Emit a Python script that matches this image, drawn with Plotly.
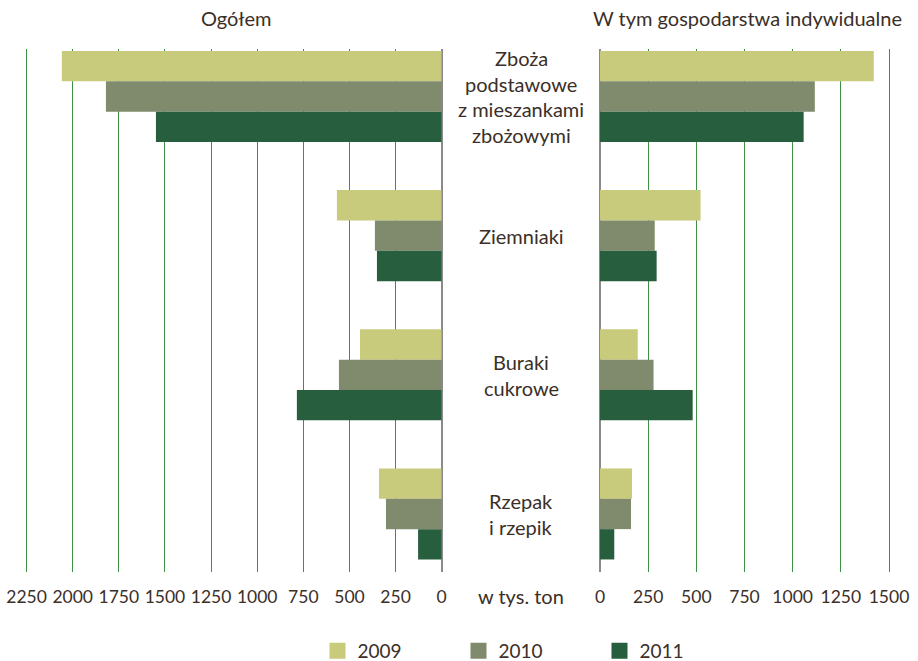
import plotly.graph_objects as go

categories = ["Zboża<br>podstawowe<br>z mieszankami<br>zbożowymi", "Ziemniaki", "Buraki<br>cukrowe", "Rzepak<br>i rzepik"]
cat_keys = ["Zboża", "Ziemniaki", "Buraki", "Rzepak"]
years = ["2009", "2010", "2011"]
colors = ["#c8ca7c", "#7f8b6c", "#275e3e"]

total = {
    "2009": [2059, 568, 443, 340],
    "2010": [1820, 362, 557, 302],
    "2011": [1549, 351, 785, 128],
}
individual = {
    "2009": [1421, 522, 196, 166],
    "2010": [1115, 284, 278, 161],
    "2011": [1057, 294, 481, 74],
}
left_ticks = [0, 250, 500, 750, 1000, 1250, 1500, 1750, 2000, 2250]
right_ticks = [0, 250, 500, 750, 1000, 1250, 1500]

W, H = 918, 661
txt = "#3b2f28"
grid = "#3f8f45"
font = "Lato"

fig = go.Figure()
for yr, col in zip(years, colors):
    fig.add_trace(go.Bar(y=cat_keys, x=total[yr], orientation="h", marker=dict(color=col, line_width=0),
                         xaxis="x", yaxis="y", showlegend=False, hoverinfo="skip"))
    fig.add_trace(go.Bar(y=cat_keys, x=individual[yr], orientation="h", marker=dict(color=col, line_width=0),
                         xaxis="x2", yaxis="y2", showlegend=False, hoverinfo="skip"))
    fig.add_trace(go.Scatter(x=[None], y=[None], mode="markers", name=yr,
                             marker=dict(symbol="square", size=19, color=col), xaxis="x", yaxis="y"))

y_dom = [1 - 572 / H, 1 - 49 / H]
yax = dict(type="category", categoryorder="array", categoryarray=cat_keys,
           range=[3.417, -0.341], showticklabels=False, showgrid=False, zeroline=False,
           showline=False, domain=y_dom, fixedrange=True)

# pixel scales (px per unit) used to pad the ranges so the outermost gridlines are drawn
lpx = (441.7 - 26.6) / 2250
rpx = (889 - 600) / 1500
pad = 3

fig.update_layout(
    width=W, height=H, margin=dict(l=0, r=0, t=0, b=0, autoexpand=False),
    paper_bgcolor="white", plot_bgcolor="white",
    barmode="group", bargap=0.346, bargroupgap=0,
    font=dict(family=font, size=17, color=txt),
    xaxis=dict(domain=[(26.6 - pad) / W, 441.7 / W], range=[2250 + pad / lpx, 0], tickvals=left_ticks,
               showgrid=True, gridcolor=grid, gridwidth=1,
               zeroline=True, zerolinecolor="#8a8a8a", zerolinewidth=1.5,
               showline=False, ticks="", ticklabelstandoff=12, anchor="y", automargin=False,
               fixedrange=True, tickfont=dict(family=font, size=17.5, color=txt)),
    xaxis2=dict(domain=[600 / W, (889 + pad) / W], range=[0, 1500 + pad / rpx], tickvals=right_ticks,
                showgrid=True, gridcolor=grid, gridwidth=1,
                zeroline=True, zerolinecolor="#8a8a8a", zerolinewidth=1.5,
                showline=False, ticks="", ticklabelstandoff=12, anchor="y2", automargin=False,
                fixedrange=True, tickfont=dict(family=font, size=17.5, color=txt)),
    yaxis=yax,
    yaxis2=dict(yax, matches="y", anchor="x2"),
    legend=dict(orientation="h", x=317.5 / W, xanchor="left", y=1 - 651 / H, yanchor="middle",
                entrywidth=96, entrywidthmode="pixels", bgcolor="rgba(0,0,0,0)",
                font=dict(family=font, size=19, color=txt), itemsizing="trace"),
)

# category labels in the gap between panels
line_h = 25.5
for key, label in zip(cat_keys, categories):
    lines = label.split("<br>")
    n = len(lines)
    for i, ln in enumerate(lines):
        off = (i - (n - 1) / 2) * line_h
        fig.add_annotation(x=521 / W, xref="paper", y=key, yref="y", text=ln, showarrow=False,
                           xanchor="center", yanchor="middle",
                           yshift=-off, font=dict(family=font, size=20, color=txt))

for xp, t in [(236, "Ogółem"), (747, "W tym gospodarstwa indywidualne")]:
    fig.add_annotation(x=xp / W, y=1 - 18 / H, xref="paper", yref="paper", text=t,
                       xanchor="center", yanchor="middle",
                       showarrow=False, font=dict(family=font, size=20, color=txt))
fig.add_annotation(x=521 / W, y=1 - 596 / H, xref="paper", yref="paper", text="w tys. ton",
                   xanchor="center", yanchor="middle",
                   showarrow=False, font=dict(family=font, size=20, color=txt))

fig.write_html("out.html", config={"displayModeBar": False},
               post_script="document.body.style.margin='0px';")
